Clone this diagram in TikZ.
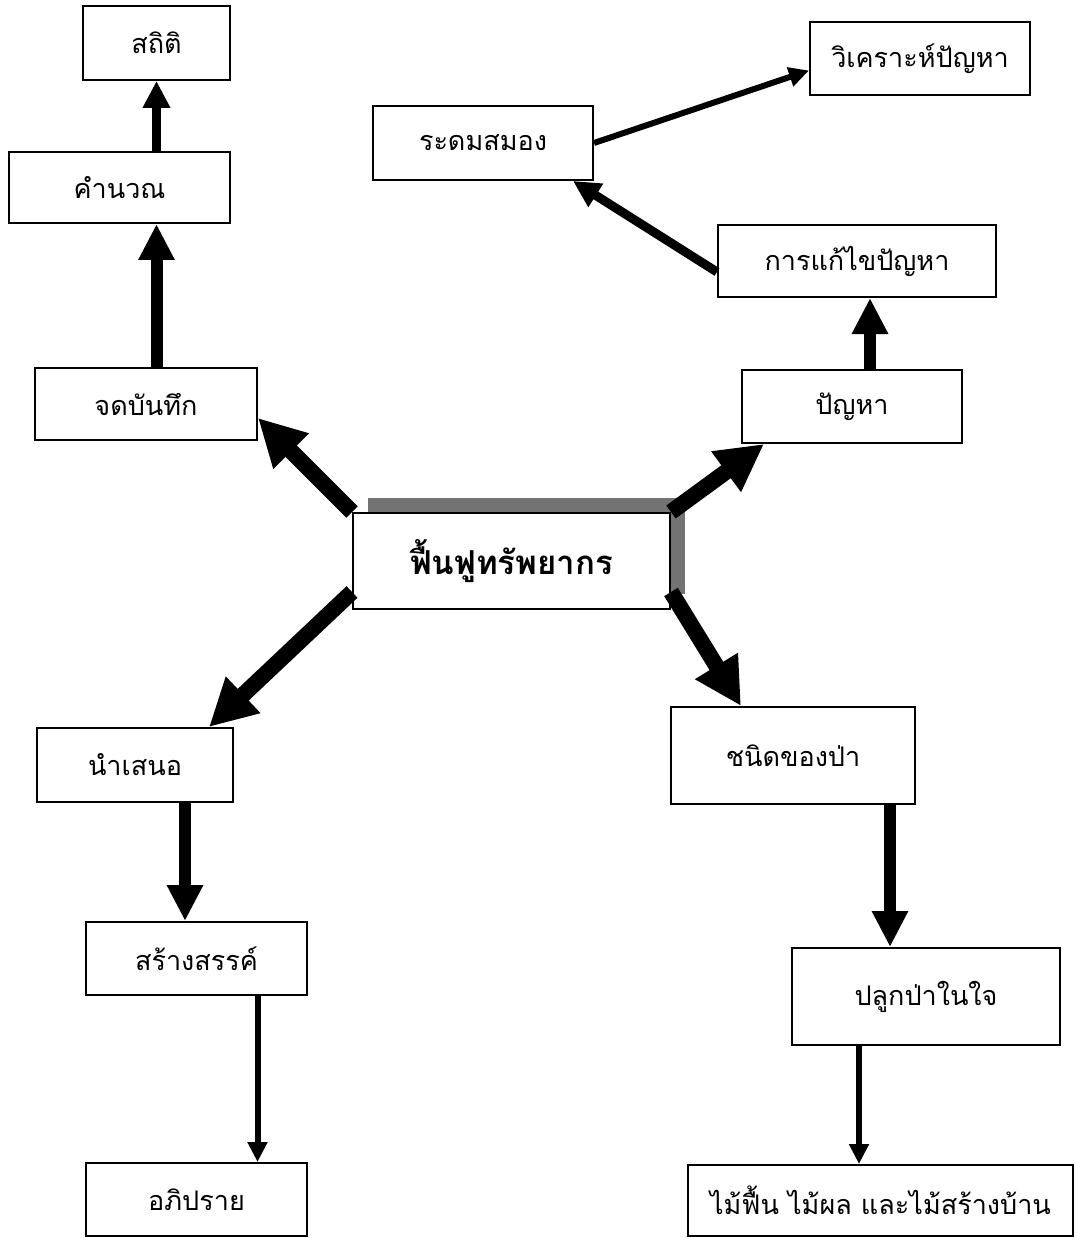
\documentclass[tikz,border=0pt]{standalone}
\usepackage{fontspec}
\newfontfamily\thaifont[Script=Thai]{Loma}
\usetikzlibrary{arrows.meta,shadows}

\begin{document}
\begin{tikzpicture}[x=1pt,y=-1pt,
  box/.style={draw,line width=2pt,fill=white,inner sep=0pt,font=\thaifont\fontsize{27}{32}\selectfont},
  bigarrow/.style={line width=16pt,-{Triangle[length=47pt,width=47pt]}},
  midarrow/.style={line width=12pt,-{Triangle[length=36pt,width=34pt]}},
  smallarrow/.style={line width=9pt,-{Triangle[length=27pt,width=26pt]}},
  thinarrow/.style={line width=6pt,-{Triangle[length=20pt,width=19pt]}}
]
\useasboundingbox (0,0) rectangle (1075,1238);
\node[box,minimum width=317pt,minimum height=96pt,
  font=\thaifont\bfseries\fontsize{33}{38}\selectfont,
  drop shadow={shadow xshift=15pt,shadow yshift=15pt,opacity=1,fill=black!55}] (hub) at (511.5,561) {ฟื้นฟูทรัพยากร};
\node[box,minimum width=147pt,minimum height=74pt] (stat) at (156.5,43) {สถิติ};
\node[box,minimum width=221pt,minimum height=71pt] (calc) at (119.5,187.5) {คำนวณ};
\node[box,minimum width=222pt,minimum height=72pt] (note) at (146,404) {จดบันทึก};
\node[box,minimum width=220pt,minimum height=73pt] (issue) at (852,406.5) {ปัญหา};
\node[box,minimum width=278pt,minimum height=72pt] (fix) at (857,261) {การแก้ไขปัญหา};
\node[box,minimum width=220pt,minimum height=74pt] (brain) at (483,143) {ระดมสมอง};
\node[box,minimum width=220pt,minimum height=73pt] (analyze) at (920,58.5) {วิเคราะห์ปัญหา};
\node[box,minimum width=196pt,minimum height=74pt] (present) at (135,765) {นำเสนอ};
\node[box,minimum width=221pt,minimum height=73pt] (create) at (196.5,958.5) {สร้างสรรค์};
\node[box,minimum width=221pt,minimum height=73pt] (discuss) at (196.5,1199.5) {อภิปราย};
\node[box,minimum width=244pt,minimum height=97pt] (forest) at (793,755.5) {ชนิดของป่า};
\node[box,minimum width=268pt,minimum height=97pt] (plant) at (926,996.5) {ปลูกป่าในใจ};
\node[box,minimum width=385pt,minimum height=71pt] (wood) at (880.5,1200.5) {ไม้ฟื้น ไม้ผล และไม้สร้างบ้าน};

\draw[bigarrow] (hub.north west) -- ([yshift=-14pt]note.east);
\draw[bigarrow] (hub.north east) -- ([xshift=23pt]issue.south west);
\draw[bigarrow] ([yshift=-31pt]hub.west) -- ([xshift=-25pt]present.north east);
\draw[bigarrow] ([yshift=-31pt]hub.east) -- ([xshift=71pt]forest.north west);

\draw[smallarrow] (calc.north -| stat.south) -- (stat.south);
\draw[midarrow] (note.north -| stat.south) -- (calc.south -| stat.south);
\draw[midarrow] ([xshift=18pt]issue.north) -- ([xshift=18pt]issue.north |- fix.south);
\draw[smallarrow] ([yshift=-11pt]fix.west) -- ([xshift=90pt]brain.south);
\draw[thinarrow] (brain.east) -- ([yshift=-12pt]analyze.west);
\draw[midarrow] ([xshift=50pt]present.south) -- ([xshift=50pt]present.south |- create.north);
\draw[thinarrow] ([xshift=61pt]create.south) -- ([xshift=61pt]discuss.north);
\draw[midarrow] ([xshift=97pt]forest.south) -- ([xshift=97pt]forest.south |- plant.north);
\draw[thinarrow] ([xshift=-67pt]plant.south) -- ([xshift=-67pt]plant.south |- wood.north);
\end{tikzpicture}
\end{document}
